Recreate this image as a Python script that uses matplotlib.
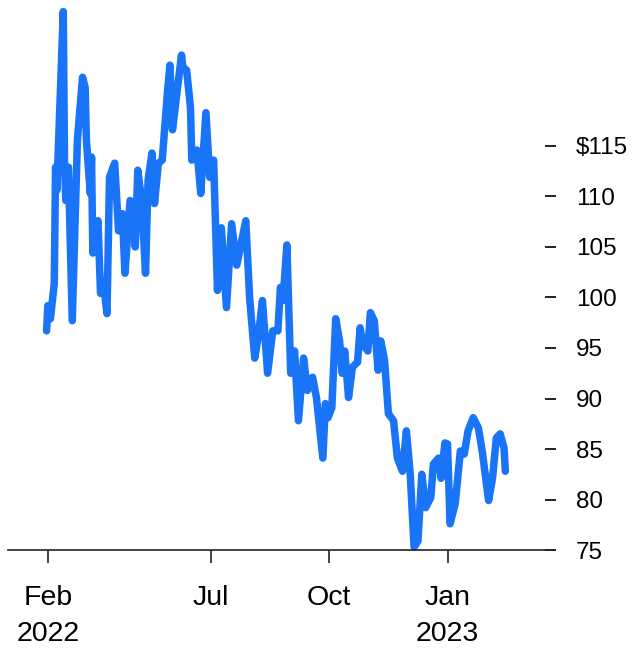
import matplotlib
matplotlib.use('Agg')
import matplotlib.pyplot as plt
import pandas as pd

# price series (date, USD)
dates = [
    "2022-02-23", "2022-02-24", "2022-02-26", "2022-03-01", "2022-03-02", "2022-03-03",
    "2022-03-08", "2022-03-09", "2022-03-10", "2022-03-12", "2022-03-15", "2022-03-19",
    "2022-03-23", "2022-03-25", "2022-03-26", "2022-03-29", "2022-03-30", "2022-03-31",
    "2022-04-04", "2022-04-06", "2022-04-08", "2022-04-11", "2022-04-13", "2022-04-17",
    "2022-04-20", "2022-04-23", "2022-04-25", "2022-04-29", "2022-05-03", "2022-05-05",
    "2022-05-08", "2022-05-11", "2022-05-13", "2022-05-16", "2022-05-18", "2022-05-21",
    "2022-05-24", "2022-05-28", "2022-05-30", "2022-06-01", "2022-06-04", "2022-06-08",
    "2022-06-09", "2022-06-12", "2022-06-15", "2022-06-16", "2022-06-20", "2022-06-23",
    "2022-06-27", "2022-06-30", "2022-07-03", "2022-07-06", "2022-07-09", "2022-07-13",
    "2022-07-17", "2022-07-21", "2022-07-25", "2022-07-28", "2022-07-31", "2022-08-04",
    "2022-08-07", "2022-08-10", "2022-08-14", "2022-08-18", "2022-08-22", "2022-08-24",
    "2022-08-26", "2022-08-29", "2022-09-01", "2022-09-04", "2022-09-07", "2022-09-11",
    "2022-09-14", "2022-09-18", "2022-09-21", "2022-09-26", "2022-09-28", "2022-09-30",
    "2022-10-03", "2022-10-06", "2022-10-09", "2022-10-11", "2022-10-13", "2022-10-16",
    "2022-10-19", "2022-10-23", "2022-10-25", "2022-10-27", "2022-10-31", "2022-11-02",
    "2022-11-05", "2022-11-08", "2022-11-10", "2022-11-13", "2022-11-16", "2022-11-20",
    "2022-11-23", "2022-11-27", "2022-11-30", "2022-12-03", "2022-12-06", "2022-12-09",
    "2022-12-12", "2022-12-15", "2022-12-19", "2022-12-21", "2022-12-25", "2022-12-27",
    "2022-12-30", "2023-01-01", "2023-01-03", "2023-01-07", "2023-01-11", "2023-01-14",
    "2023-01-17", "2023-01-21", "2023-01-25", "2023-01-28", "2023-02-02", "2023-02-05",
    "2023-02-08", "2023-02-11", "2023-02-14", "2023-02-15",
]
prices = [
    96.7, 99.2, 97.9, 101.4, 112.9, 110.6,
    128.3, 112.9, 109.6, 112.9, 97.7, 115.6,
    121.8, 120.8, 115.6, 110.3, 113.9, 104.4,
    107.6, 100.4, 101.7, 98.4, 111.9, 113.3,
    106.6, 108.3, 102.4, 109.6, 105.0, 112.6,
    109.6, 102.4, 111.6, 114.3, 109.3, 113.3,
    113.6, 120.2, 123.0, 116.6, 119.8, 124.0,
    122.8, 122.5, 118.8, 113.6, 114.6, 110.3,
    118.3, 111.9, 113.6, 100.7, 106.9, 99.0,
    107.3, 103.2, 105.7, 107.6, 100.0, 94.0,
    96.4, 99.7, 92.5, 96.7, 96.7, 101.0,
    99.7, 105.2, 92.5, 94.7, 87.8, 94.0,
    90.8, 92.1, 90.1, 84.1, 89.5, 88.1,
    89.1, 97.9, 95.7, 92.5, 94.7, 90.1,
    93.1, 93.6, 97.0, 95.4, 94.7, 98.5,
    97.7, 92.8, 95.7, 93.8, 88.5, 87.8,
    84.1, 82.8, 86.8, 82.5, 75.3, 75.9,
    82.5, 79.2, 80.2, 83.5, 84.1, 82.1,
    85.6, 85.5, 77.6, 79.6, 84.8, 84.5,
    86.8, 88.1, 87.1, 84.8, 79.9, 82.1,
    86.1, 86.5, 85.1, 82.8,
]

x_ticks = ["2022-02-24", "2022-07-01", "2022-10-01", "2023-01-01"]
x_labels = ["Feb\n2022", "Jul", "Oct", "Jan\n2023"]
y_ticks = [75, 80, 85, 90, 95, 100, 105, 110, 115]
y_labels = ["75", "80", "85", "90", "95", "100", "105", "110", "$115"]

plt.rcParams['font.family'] = ['Liberation Sans', 'DejaVu Sans']

fig = plt.figure(figsize=(6.41, 6.52), dpi=100)
ax = fig.add_axes([0.0125, 0.1564, 0.838, 0.8436])

ax.plot(pd.to_datetime(dates), prices, color='#1a74f7', lw=5.4,
        solid_joinstyle='round', solid_capstyle='round', clip_on=False)

ax.set_xlim(pd.Timestamp("2022-01-24"), pd.Timestamp("2023-03-18"))
ax.set_ylim(75, 129.45)

ax.set_xticks(pd.to_datetime(x_ticks))
ax.set_xticklabels(x_labels, fontsize=20.5, linespacing=1.5)
ax.set_yticks(y_ticks)
ax.set_yticklabels(y_labels, fontsize=17.5)

ax.yaxis.tick_right()
ax.tick_params(axis='y', length=8, width=1.4, pad=14, color='#222222')
ax.tick_params(axis='x', length=9.5, width=1.2, pad=16, color='#222222')

for side in ['top', 'left', 'right']:
    ax.spines[side].set_visible(False)
ax.spines['bottom'].set_linewidth(1.2)
ax.spines['bottom'].set_color('#222222')

plt.savefig('out.png', dpi=100)
